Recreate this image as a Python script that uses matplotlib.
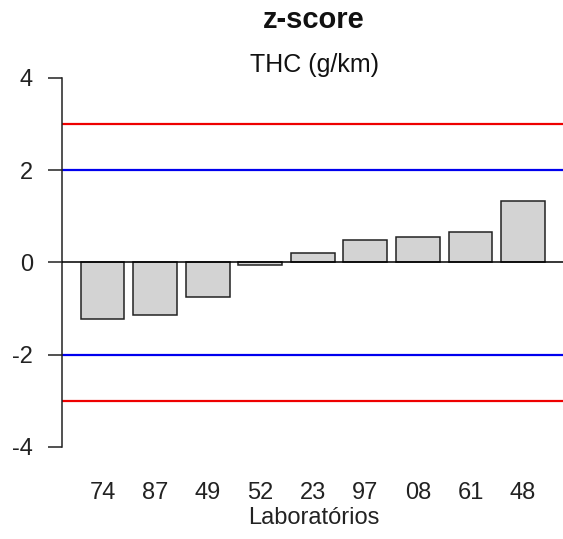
import numpy as np
import matplotlib.pyplot as plt

# z-scores per laboratory
labs = ["74", "87", "49", "52", "23", "97", "08", "61", "48"]
zscores = [-1.23, -1.14, -0.75, -0.06, 0.20, 0.48, 0.55, 0.65, 1.33]
warn_limit = 2
action_limit = 3

plt.rcParams['font.family'] = ['Liberation Sans', 'DejaVu Sans']
plt.rcParams['axes.unicode_minus'] = False

W, H = 563, 539
fig = plt.figure(figsize=(W / 100, H / 100), dpi=100)
ax = fig.add_axes([62 / W, 1 - 461.5 / H, (563.5 - 62) / W, (461.5 - 63.2) / H])

# barplot layout: width 1, space 0.2
x = 0.2 + np.arange(len(labs)) * 1.2
ax.bar(x, zscores, width=1.0, align='edge', color='#d3d3d3',
       edgecolor='#222222', linewidth=1.1, zorder=2)
ax.set_xlim(-0.224, 11.224)
ax.set_ylim(-4.32, 4.32)

# reference lines
ax.axhline(0, color='black', lw=1.1, zorder=3)
for v in (warn_limit, -warn_limit):
    ax.axhline(v, color='#0000ee', lw=1.6, zorder=1)
for v in (action_limit, -action_limit):
    ax.axhline(v, color='#ee0000', lw=1.6, zorder=1)

for s in ['top', 'right', 'bottom']:
    ax.spines[s].set_visible(False)
ax.spines['left'].set_bounds(-4, 4)
ax.spines['left'].set_linewidth(1.1)
ax.spines['left'].set_color('#222222')
ax.set_yticks([-4, -2, 0, 2, 4])
ax.tick_params(axis='y', length=10, width=1.1, color='#222222', pad=11,
               labelsize=17, labelcolor='#222222')
ax.set_xticks(x + 0.5)
ax.set_xticklabels(labs)
ax.tick_params(axis='x', length=0, pad=15, labelsize=17, labelcolor='#222222')

fig.text(314 / W, 1 - 20 / H, "z-score", ha='center', va='center',
         fontsize=21, fontweight='bold', color='#111111')
fig.text(314 / W, 1 - 65 / H, "THC (g/km)", ha='center', va='center',
         fontsize=18, color='#111111')
fig.text(314 / W, 1 - 518 / H, "Laboratórios", ha='center', va='center',
         fontsize=17, color='#222222')

fig.savefig("out.png", dpi=100)
